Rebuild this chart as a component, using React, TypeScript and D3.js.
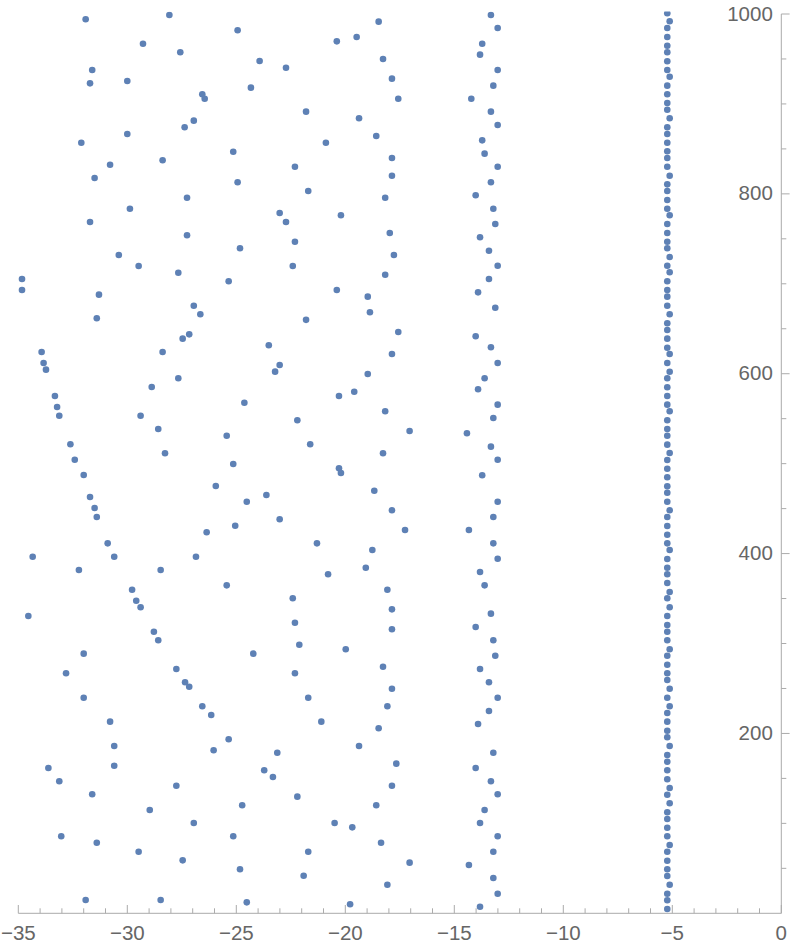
import React from "react";
import * as d3 from "d3";

// Column of points near Re = -5.2
const col5: [number, number][] = [
  [-5.23, 1000.8], [-5.12, 991.9], [-5.23, 984.5], [-5.23, 974.5], [-5.23, 964.7], [-5.23, 957.4],
  [-5.23, 947.4], [-5.23, 937.7], [-5.12, 930.3], [-5.23, 920.3], [-5.23, 910.7], [-5.23, 901.0],
  [-5.23, 893.6], [-5.12, 884.0], [-5.23, 874.0], [-5.23, 866.6], [-5.23, 856.9], [-5.23, 847.3],
  [-5.23, 839.9], [-5.23, 830.2], [-5.12, 820.2], [-5.23, 810.6], [-5.23, 803.2], [-5.23, 793.2],
  [-5.23, 783.5], [-5.12, 776.2], [-5.23, 766.5], [-5.23, 756.5], [-5.23, 746.8], [-5.23, 739.5],
  [-5.12, 729.8], [-5.23, 720.1], [-5.12, 712.8], [-5.23, 702.8], [-5.23, 693.1], [-5.23, 685.7],
  [-5.23, 675.6], [-5.12, 666.1], [-5.23, 656.1], [-5.23, 648.6], [-5.23, 639.0], [-5.23, 628.9],
  [-5.12, 621.9], [-5.23, 611.9], [-5.12, 602.2], [-5.23, 594.9], [-5.23, 584.9], [-5.23, 575.2],
  [-5.23, 565.6], [-5.12, 558.2], [-5.23, 548.2], [-5.23, 538.5], [-5.23, 531.1], [-5.23, 521.1],
  [-5.12, 511.8], [-5.23, 504.1], [-5.23, 494.4], [-5.23, 484.8], [-5.23, 474.8], [-5.23, 467.7],
  [-5.23, 457.7], [-5.12, 448.1], [-5.23, 440.7], [-5.23, 430.7], [-5.23, 421.0], [-5.23, 411.4],
  [-5.12, 404.0], [-5.23, 394.0], [-5.23, 384.3], [-5.23, 377.0], [-5.23, 367.3], [-5.12, 357.3],
  [-5.23, 350.3], [-5.12, 340.3], [-5.23, 330.6], [-5.23, 320.6], [-5.23, 313.1], [-5.23, 303.6],
  [-5.12, 293.6], [-5.23, 286.4], [-5.23, 276.4], [-5.23, 266.9], [-5.23, 259.4], [-5.12, 249.7],
  [-5.23, 239.7], [-5.12, 230.2], [-5.23, 222.7], [-5.23, 213.1], [-5.23, 203.0], [-5.23, 195.7],
  [-5.12, 186.0], [-5.23, 176.0], [-5.23, 168.6], [-5.23, 159.0], [-5.23, 149.0], [-5.12, 139.3],
  [-5.23, 131.9], [-5.12, 122.3], [-5.23, 112.3], [-5.23, 104.9], [-5.23, 95.2], [-5.23, 85.6],
  [-5.12, 75.9], [-5.23, 68.5], [-5.23, 58.5], [-5.23, 48.9], [-5.23, 41.5], [-5.12, 31.8],
  [-5.23, 21.8], [-5.23, 14.5], [-5.23, 4.8],
];

// Column of points near Re = -13.5
const col13: [number, number][] = [
  [-13.32, 998.9], [-13.01, 984.4], [-13.72, 967.0], [-13.82, 954.8], [-13.01, 937.7], [-13.21, 920.3],
  [-14.22, 905.8], [-13.32, 891.4], [-13.01, 876.6], [-13.72, 859.5], [-13.61, 844.7], [-13.01, 830.2],
  [-13.32, 812.9], [-14.02, 798.4], [-13.21, 783.5], [-13.12, 766.5], [-13.82, 751.7], [-13.41, 736.8],
  [-13.01, 720.1], [-13.41, 705.3], [-13.91, 690.5], [-13.12, 673.4], [-14.02, 641.6], [-13.32, 629.4],
  [-13.01, 611.9], [-13.61, 594.9], [-13.91, 582.7], [-13.01, 565.6], [-13.21, 550.8], [-14.42, 533.8],
  [-13.32, 518.9], [-13.01, 504.4], [-13.72, 487.1], [-13.01, 457.7], [-13.21, 440.7], [-14.33, 426.2],
  [-13.21, 411.4], [-13.01, 394.3], [-13.82, 379.5], [-13.61, 364.7], [-13.32, 333.2], [-14.02, 318.4],
  [-13.21, 303.6], [-13.12, 286.4], [-13.82, 271.7], [-13.41, 256.9], [-13.01, 239.7], [-13.41, 224.9],
  [-13.91, 210.5], [-13.21, 178.6], [-14.02, 161.6], [-13.32, 146.8], [-13.01, 132.3], [-13.61, 114.9],
  [-13.82, 100.4], [-13.01, 85.6], [-13.21, 68.5], [-14.33, 53.7], [-13.21, 39.3], [-13.01, 21.8],
  [-13.82, 7.3],
];

// Upper scattered points (y > 655)
const scatterTop: [number, number][] = [
  [-31.91, 994.1], [-28.07, 998.9], [-24.94, 981.9], [-18.47, 991.5], [-20.39, 969.6], [-19.48, 974.4],
  [-29.28, 967.0], [-27.57, 957.4], [-23.93, 947.7], [-22.72, 940.3], [-18.27, 950.0], [-31.61, 937.7],
  [-31.71, 922.9], [-30.0, 925.5], [-24.33, 918.1], [-17.86, 928.1], [-26.56, 910.7], [-26.45, 905.8],
  [-17.57, 905.8], [-21.80, 891.4], [-19.37, 884.0], [-26.95, 881.4], [-27.37, 874.0], [-30.0, 866.6],
  [-18.58, 864.3], [-32.11, 856.9], [-20.89, 856.9], [-25.14, 846.9], [-17.86, 839.9], [-28.38, 837.3],
  [-30.79, 832.4], [-22.31, 830.2], [-31.50, 817.6], [-17.86, 820.2], [-24.94, 812.9], [-21.70, 803.2],
  [-27.26, 795.7], [-18.17, 795.7], [-29.88, 783.5], [-20.20, 776.2], [-23.01, 778.7], [-22.72, 768.7],
  [-31.71, 768.7], [-17.96, 756.5], [-27.26, 753.9], [-22.31, 746.8], [-24.83, 739.5], [-17.77, 732.0],
  [-30.39, 732.0], [-29.48, 719.8], [-22.41, 719.8], [-18.17, 710.1], [-27.66, 712.3], [-25.35, 702.8],
  [-34.83, 705.3], [-34.83, 693.1], [-31.30, 687.9], [-20.39, 693.1], [-18.97, 685.7], [-18.87, 668.3],
  [-26.95, 675.6], [-26.65, 666.1], [-31.40, 661.6], [-21.80, 659.9],
];

// Middle scattered points (310 < y < 655)
const scatterMid: [number, number][] = [
  [-17.57, 646.4], [-33.93, 624.1], [-33.84, 611.9], [-33.73, 604.5], [-28.38, 624.1], [-27.46, 639.0],
  [-27.16, 643.8], [-23.51, 631.6], [-23.01, 609.7], [-23.22, 602.3], [-17.86, 621.9], [-18.97, 599.7],
  [-19.59, 580.0], [-20.29, 575.2], [-27.66, 594.9], [-28.88, 585.2], [-33.32, 575.2], [-33.22, 563.0],
  [-33.12, 553.3], [-29.39, 553.3], [-24.63, 567.8], [-22.20, 548.2], [-18.17, 558.2], [-28.58, 538.5],
  [-25.44, 531.1], [-21.61, 521.5], [-18.27, 511.5], [-32.61, 521.5], [-32.41, 504.4], [-28.27, 511.5],
  [-25.14, 499.6], [-20.29, 494.8], [-20.20, 489.6], [-32.0, 487.4], [-25.94, 475.1], [-18.67, 469.9],
  [-31.71, 462.9], [-24.52, 457.7], [-23.62, 465.1], [-31.50, 450.7], [-31.40, 440.7], [-17.86, 448.1],
  [-23.01, 438.1], [-25.05, 431.0], [-26.36, 423.7], [-21.30, 411.4], [-18.76, 404.0], [-30.90, 411.4],
  [-30.60, 396.5], [-34.34, 396.5], [-26.85, 396.5], [-32.22, 381.7], [-28.47, 381.7], [-19.06, 384.3],
  [-20.79, 377.0], [-25.44, 364.7], [-29.78, 359.8], [-29.59, 347.6], [-29.39, 340.3], [-18.07, 359.8],
  [-17.86, 338.0], [-22.41, 350.3], [-22.31, 323.1], [-34.54, 330.6], [-28.78, 313.1], [-17.86, 315.8],
  [-17.05, 536.3], [-17.26, 426.2],
];

// Lower scattered points (y < 310)
const scatterLow: [number, number][] = [
  [-28.58, 303.6], [-32.0, 288.7], [-32.81, 266.9], [-32.0, 239.7], [-30.79, 213.1], [-30.60, 186.0],
  [-30.60, 164.1], [-33.62, 161.6], [-33.12, 146.8], [-31.61, 132.3], [-33.03, 85.6], [-31.40, 78.5],
  [-31.91, 14.8], [-28.47, 14.8], [-24.52, 12.2], [-19.78, 10.0], [-27.75, 271.7], [-27.35, 256.9],
  [-27.16, 252.0], [-26.56, 230.2], [-26.15, 220.5], [-25.35, 193.5], [-26.04, 181.3], [-27.75, 141.9],
  [-28.97, 114.9], [-26.95, 100.4], [-29.48, 68.5], [-27.46, 58.9], [-25.14, 85.6], [-24.73, 120.1],
  [-24.83, 48.9], [-24.22, 288.7], [-22.11, 298.7], [-22.31, 266.9], [-21.70, 239.7], [-21.10, 213.1],
  [-23.12, 178.6], [-23.72, 159.0], [-23.32, 151.6], [-22.20, 129.7], [-21.70, 68.5], [-21.91, 41.8],
  [-19.98, 293.6], [-18.27, 274.2], [-17.86, 249.7], [-18.07, 230.2], [-18.47, 205.7], [-19.37, 186.0],
  [-17.66, 166.4], [-17.86, 141.9], [-18.58, 120.1], [-20.49, 100.4], [-19.68, 95.6], [-18.36, 78.5],
  [-18.07, 31.8], [-17.05, 56.3],
];

const xMajorTicks = [-35, -30, -25, -20, -15, -10, -5, 0];
const xMinorTicks = d3.range(-35, 1, 1).filter((v) => v % 5 !== 0);
const yMajorTicks = [200, 400, 600, 800, 1000];
const yMinorTicks = d3.range(50, 1001, 50).filter((v) => v % 200 !== 0);

const W = 793;
const H = 951;

export default function App() {
  const x = d3.scaleLinear().domain([-35, 0]).range([18.3, 781.3]);
  const y = d3.scaleLinear().domain([0, 1000]).range([913.3, 14]);
  const all = [...scatterTop, ...scatterMid, ...scatterLow, ...col13, ...col5];
  const axisColor = "#ababab";
  const labelColor = "#666666";
  const font = "'Liberation Sans', Arial, sans-serif";
  const fs = 20.5;
  const fmt = (v: number) => (v < 0 ? "\u2212" + Math.abs(v) : String(v));
  const x0 = x(0);
  const y0 = y(0);
  return (
    <svg width={W} height={H} style={{ position: "absolute", left: 0, top: 0, background: "#fff" }}>
      <defs>
        <clipPath id="plotclip">
          <rect x={0} y={11.5} width={W} height={H} />
        </clipPath>
      </defs>
      {/* x axis */}
      <line x1={x(-35)} x2={x0} y1={y0} y2={y0} stroke={axisColor} strokeWidth={1} />
      {xMinorTicks.map((t) => (
        <line key={"xm" + t} x1={x(t)} x2={x(t)} y1={y0} y2={y0 - 5} stroke={axisColor} strokeWidth={1} />
      ))}
      {xMajorTicks.map((t) => (
        <g key={"xM" + t}>
          <line x1={x(t)} x2={x(t)} y1={y0} y2={y0 - 8.3} stroke={axisColor} strokeWidth={1} />
          <text x={x(t)} y={y0 + 26.7} textAnchor="middle" fontFamily={font} fontSize={fs} fill={labelColor}>
            {fmt(t)}
          </text>
        </g>
      ))}
      {/* y axis */}
      <line x1={x0} x2={x0} y1={y0} y2={y(1000)} stroke={axisColor} strokeWidth={1} />
      {yMinorTicks.map((t) => (
        <line key={"ym" + t} x1={x0} x2={x0 + 5} y1={y(t)} y2={y(t)} stroke={axisColor} strokeWidth={1} />
      ))}
      {yMajorTicks.map((t) => (
        <g key={"yM" + t}>
          <line x1={x0} x2={x0 + 8.3} y1={y(t)} y2={y(t)} stroke={axisColor} strokeWidth={1} />
          <text x={x0 - 8.5} y={y(t) + 6.5} textAnchor="end" fontFamily={font} fontSize={fs} fill={labelColor}>
            {fmt(t)}
          </text>
        </g>
      ))}
      <g clipPath="url(#plotclip)">
        {all.map((d, i) => (
          <circle key={i} cx={x(d[0])} cy={y(d[1])} r={3.3} fill="#5E81B5" />
        ))}
      </g>
    </svg>
  );
}
